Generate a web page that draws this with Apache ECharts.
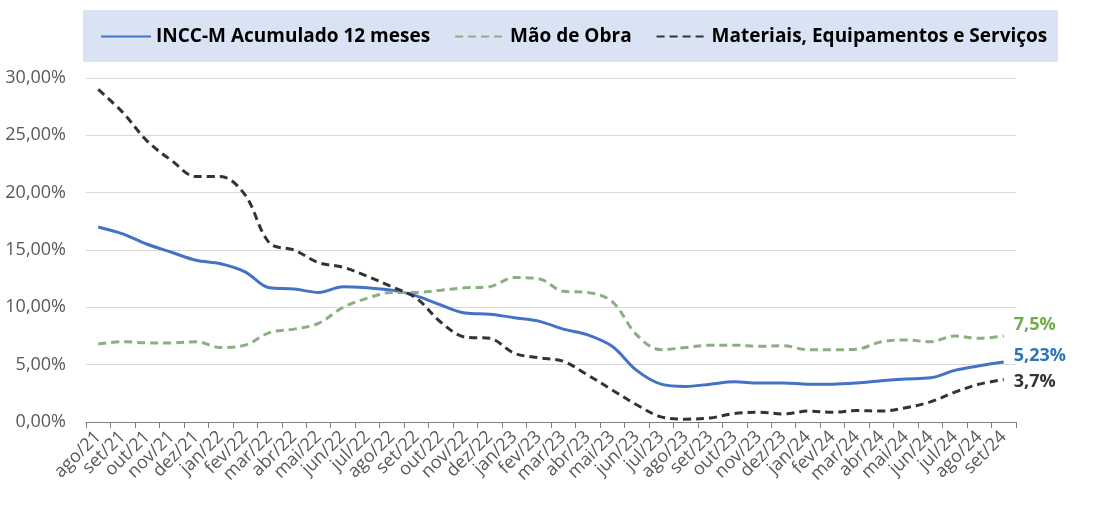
<!DOCTYPE html>
<html><head><meta charset="utf-8">
<script src="https://cdn.jsdelivr.net/npm/echarts@6/dist/echarts.min.js"></script>
<style>html,body{margin:0;padding:0;background:#fff}#c{width:1098px;height:515px}</style>
</head><body><div id="c"></div>
<script>
const categories = ['ago/21','set/21','out/21','nov/21','dez/21','jan/22','fev/22','mar/22','abr/22','mai/22','jun/22','jul/22',
 'ago/22','set/22','out/22','nov/22','dez/22','jan/23','fev/23','mar/23','abr/23','mai/23','jun/23','jul/23',
 'ago/23','set/23','out/23','nov/23','dez/23','jan/24','fev/24','mar/24','abr/24','mai/24','jun/24','jul/24','ago/24','set/24'];
const inccM = [17.0,16.4,15.5,14.8,14.1,13.8,13.1,11.7,11.6,11.3,11.8,11.7,
 11.5,11.0,10.2,9.5,9.4,9.1,8.8,8.1,7.6,6.6,4.5,3.3,
 3.1,3.3,3.5,3.4,3.4,3.3,3.3,3.4,3.6,3.75,3.85,4.5,4.9,5.23];
const maoDeObra = [6.8,7.0,6.9,6.9,7.0,6.5,6.7,7.8,8.1,8.6,10.0,10.8,
 11.3,11.3,11.5,11.7,11.8,12.6,12.5,11.4,11.3,10.5,7.6,6.3,
 6.5,6.7,6.7,6.6,6.65,6.3,6.3,6.35,7.0,7.15,7.0,7.5,7.3,7.5];
const materiais = [29.0,27.0,24.5,22.8,21.4,21.4,19.8,15.6,15.0,13.9,13.5,12.7,
 11.8,10.8,8.7,7.4,7.3,6.0,5.6,5.3,4.1,2.8,1.5,0.45,
 0.25,0.35,0.75,0.85,0.7,0.95,0.85,1.0,0.95,1.25,1.75,2.6,3.3,3.7];
const endLabels = ['5,23%','7,5%','3,7%'];
const seriesNames = ['INCC-M Acumulado 12 meses','Mão de Obra','Materiais, Equipamentos e Serviços'];

const FONT = 'Open Sans';
const chart = echarts.init(document.getElementById('c'));
function mk(name, data, color, dashed, labelColor, labelText, off){
  return {
    name, type:'line', data, smooth:0.35, symbol:'none', showSymbol:false,
    lineStyle:{color, width:3, type: dashed ? [8,5] : 'solid', cap:'butt'},
    itemStyle:{color},
    endLabel:{show:true, formatter: labelText, color: labelColor, fontFamily: FONT, fontWeight:'bold', fontSize:18, distance:10, offset: off},
    emphasis:{disabled:true}
  };
}
chart.setOption({
  animation:false,
  textStyle:{fontFamily:FONT},
  graphic:[{type:'rect', shape:{x:83,y:10,width:975,height:52}, style:{fill:'#dae3f3'}, z:-1}],
  legend:{
    top:22, left:95, itemWidth:50, itemHeight:10, itemGap:24,
    itemStyle:{opacity:0},
    textStyle:{fontFamily:FONT, fontWeight:'bold', fontSize:19, color:'#000'},
    data: seriesNames
  },
  grid:{left:86, right:82, top:78, bottom:93},
  xAxis:{
    type:'category', data:categories, boundaryGap:true,
    axisLine:{lineStyle:{color:'#7f7f7f', width:1}},
    axisTick:{show:true, length:6, lineStyle:{color:'#7f7f7f'}},
    axisLabel:{rotate:45, fontSize:18, color:'#595959', fontFamily:FONT, margin:12, interval:0}
  },
  yAxis:{
    type:'value', min:0, max:30, interval:5,
    axisLine:{show:false}, axisTick:{show:false},
    splitLine:{lineStyle:{color:'#d9d9d9', width:1}},
    axisLabel:{fontSize:18, color:'#595959', fontFamily:FONT, margin:20,
      formatter:v=>v.toFixed(2).replace('.',',')+'%'}
  },
  series:[
    mk(seriesNames[0], inccM, '#4472c4', false, '#2e75b6', endLabels[0], [0,-6]),
    mk(seriesNames[1], maoDeObra, '#8cae84', true, '#70ad47', endLabels[1], [0,-11]),
    mk(seriesNames[2], materiais, '#333333', true, '#333333', endLabels[2], [0,2])
  ]
});
</script></body></html>
